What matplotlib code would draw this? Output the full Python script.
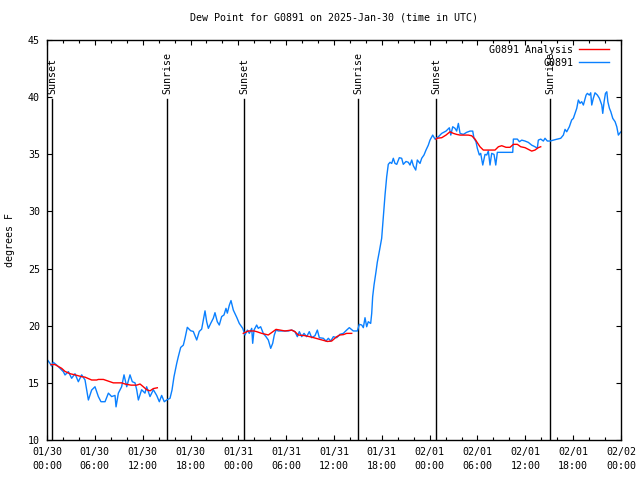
import numpy as np
import matplotlib
matplotlib.use("Agg")
import matplotlib.pyplot as plt

# ---- data (hours since 2025-01-30 00:00 UTC) ----
obs_hours = [0.0,0.38,0.58,0.79,1.21,1.63,2.05,2.26,2.68,3.09,3.51,3.93,4.35,4.77,5.19,5.6,6.02,6.44,6.77,7.28,
             7.7,8.11,8.53,8.66,8.95,9.36,9.66,10.0,10.41,10.7,11.04,11.25,11.46,11.87,12.29,12.5,12.92,13.34,13.76,14.09,
             14.38,14.71,15.0,15.43,15.68,15.93,16.27,16.47,16.77,17.1,17.31,17.6,18.02,18.35,18.78,19.1,19.4,19.61,19.82,20.03,
             20.24,20.53,20.86,21.07,21.36,21.61,21.91,22.2,22.45,22.62,22.87,23.08,23.37,23.8,24.12,24.55,24.84,25.13,25.38,25.68,
             25.8,25.97,26.3,26.5,26.8,27.13,27.47,27.76,28.06,28.31,28.51,28.73,29.01,29.64,30.27,30.69,31.1,31.4,31.65,31.95,
             32.24,32.57,32.9,33.2,33.62,33.91,34.16,34.66,35.0,35.29,35.59,35.92,36.34,36.75,37.17,37.59,37.92,38.42,38.93,39.18,
             39.48,39.68,39.89,40.1,40.3,40.6,40.73,40.85,41.02,41.27,41.43,41.68,41.98,42.19,42.4,42.61,42.81,43.03,43.24,43.44,
             43.65,43.87,44.19,44.49,44.69,45.03,45.32,45.53,45.75,45.95,46.25,46.45,46.79,47.0,47.29,47.54,47.83,48.04,48.38,48.67,
             49.09,49.51,50.05,50.47,50.65,50.89,51.18,51.39,51.6,51.81,52.22,52.64,53.06,53.4,53.56,53.81,53.98,54.23,54.4,54.66,
             54.94,55.16,55.36,55.57,55.78,56.07,56.29,56.49,56.83,57.67,58.42,58.5,59.0,59.26,59.55,59.96,60.38,60.8,61.21,61.5,
             61.63,61.93,62.26,62.47,62.76,63.1,63.51,63.85,64.44,64.77,64.98,65.19,65.52,65.81,66.02,66.23,66.45,66.65,66.86,67.07,
             67.28,67.62,67.78,68.03,68.2,68.33,68.53,68.74,69.04,69.29,69.59,69.71,69.88,70.05,70.22,70.35,70.55,70.72,70.97,71.26,
             71.47,71.67,71.88,72.0]
obs_values = [17.06,16.7,16.47,16.8,16.56,16.27,15.98,15.69,15.98,15.4,15.8,15.1,15.7,15.25,13.5,14.37,14.66,13.8,13.35,13.35,
              14.1,13.8,13.9,12.9,14.1,14.66,15.7,14.66,15.7,15.1,15.0,14.4,13.5,14.4,14.1,14.66,13.8,14.4,13.9,13.35,
              13.9,13.35,13.5,13.65,14.37,15.54,16.7,17.29,18.1,18.3,18.9,19.86,19.56,19.5,18.75,19.5,19.7,20.5,21.3,20.35,
              19.77,20.2,20.65,21.14,20.35,20.06,20.8,20.94,21.52,21.1,21.8,22.2,21.37,20.73,20.2,19.77,19.19,19.62,19.33,19.77,
              18.46,19.62,20.06,19.77,19.91,19.33,19.04,18.75,18.02,18.46,19.19,19.62,19.54,19.54,19.54,19.62,19.48,19.04,19.48,19.04,
              19.33,19.04,19.48,18.95,19.13,19.62,18.95,18.9,18.66,18.9,18.66,19.04,18.95,19.25,19.33,19.62,19.83,19.54,19.54,20.12,
              20.06,19.83,20.7,19.91,20.35,20.2,21.08,22.54,23.56,24.73,25.55,26.48,27.65,29.54,31.44,33.04,34.12,34.3,34.2,34.65,
              34.2,34.12,34.7,34.65,34.12,34.37,34.3,34.06,34.5,34.0,33.62,34.5,34.2,34.65,34.94,35.37,35.8,36.24,36.68,36.33,
              36.53,36.83,37.03,37.32,36.68,37.41,37.27,37.03,37.7,36.83,36.74,36.92,37.03,37.03,36.4,36.1,35.52,34.94,35.08,34.06,
              34.99,34.94,35.28,34.06,35.08,34.99,34.06,35.17,35.17,35.17,35.17,36.33,36.33,36.1,36.24,36.16,36.04,35.8,35.66,35.52,
              36.24,36.33,36.16,36.4,36.16,36.16,36.24,36.3,36.4,36.68,37.18,36.97,37.41,38.0,38.14,38.58,39.02,39.75,39.46,39.6,
              39.31,40.18,40.33,40.18,40.38,39.31,39.9,40.38,40.18,39.9,39.31,38.58,39.6,40.33,40.47,39.6,39.02,38.73,38.14,37.85,
              37.41,36.68,36.88,36.97]

ana_hours = [0.5,1.0,1.84,2.26,2.89,3.51,4.35,4.77,5.6,6.23,6.44,7.07,7.49,8.32,9.36,9.78,10.54,11.25,11.67,12.08,
             12.5,12.92,13.34,13.84,19.0,
             24.62,25.25,25.97,26.3,26.93,27.76,28.18,28.73,29.22,29.85,30.69,31.1,31.51,32.36,33.2,34.03,34.66,35.17,35.71,36.34,
             36.75,37.17,37.59,38.22,43.0,
             48.8,48.88,49.51,50.05,50.55,50.97,51.39,51.81,52.22,52.85,53.27,53.69,53.9,54.31,54.73,55.36,56.2,56.62,57.04,57.58,
             58.08,58.5,59.0,59.42,59.96,60.38,60.8,61.21,61.63,61.93]
ana_values = [16.6,16.6,16.27,16.0,15.8,15.7,15.54,15.5,15.25,15.25,15.3,15.3,15.2,15.0,15.0,14.9,14.8,14.8,14.9,14.66,
              14.4,14.3,14.5,14.57,np.nan,
              19.33,19.54,19.54,19.48,19.33,19.19,19.4,19.68,19.62,19.54,19.62,19.48,19.19,19.13,19.0,18.84,18.72,18.62,18.66,19.04,
              19.19,19.22,19.33,19.33,np.nan,
              36.3,36.4,36.45,36.68,36.97,36.83,36.74,36.68,36.68,36.68,36.62,36.33,36.1,35.66,35.37,35.37,35.37,35.66,35.75,35.61,
              35.61,35.87,35.87,35.66,35.58,35.43,35.28,35.37,35.58,35.66]

sun_hours = [0.63, 15.05, 24.71, 39.05, 48.8, 63.13]
sun_labels = ["Sunset", "Sunrise", "Sunset", "Sunrise", "Sunset", "Sunrise"]

xtick_hours = list(range(0, 73, 6))
xtick_labels = ["01/30\n00:00", "01/30\n06:00", "01/30\n12:00", "01/30\n18:00",
                "01/31\n00:00", "01/31\n06:00", "01/31\n12:00", "01/31\n18:00",
                "02/01\n00:00", "02/01\n06:00", "02/01\n12:00", "02/01\n18:00",
                "02/02\n00:00"]
yticks = [10, 15, 20, 25, 30, 35, 40, 45]

# ---- figure ----
plt.rcParams['font.family'] = ['DejaVu Sans Mono']
FS = 7.2
fig = plt.figure(figsize=(6.4, 4.8), dpi=100)
ax = fig.add_axes([47/640, 40/480, 574/640, 400/480])

for h, lab in zip(sun_hours, sun_labels):
    ax.plot([h, h], [10, 39.85], color='black', lw=1.0, zorder=1)
    ax.text(h, 40.3, lab, rotation=90, ha='center', va='bottom', fontsize=FS)

ax.plot(ana_hours, ana_values, color='#ff0000', lw=1.0, label='G0891 Analysis', zorder=3)
ax.plot(obs_hours, obs_values, color='#0a80ff', lw=1.0, label='G0891', zorder=2)

ax.set_xlim(0, 72)
ax.set_ylim(10, 45)
ax.set_xticks(xtick_hours)
ax.set_xticklabels(xtick_labels, fontsize=FS, linespacing=1.45)
ax.set_xticks(np.arange(0, 73, 2), minor=True)
ax.set_yticks(yticks)
ax.set_yticklabels([str(v) for v in yticks], fontsize=FS)
ax.tick_params(which='both', direction='in', top=True, right=True, width=0.8, color='black')
ax.tick_params(which='major', length=3.6, pad=5)
ax.tick_params(which='minor', length=2.0)
for s in ax.spines.values():
    s.set_linewidth(1.0)

ax.set_title("Dew Point for G0891 on 2025-Jan-30 (time in UTC)", fontsize=FS, pad=14)
ax.set_ylabel("degrees F", fontsize=FS)
ax.yaxis.set_label_coords(-0.055, 0.5)

leg = ax.legend(loc='upper right', bbox_to_anchor=(0.996, 1.012), frameon=False,
                markerfirst=False, fontsize=FS,
                handlelength=3.0, handletextpad=0.6, labelspacing=0.3,
                borderaxespad=0.5, borderpad=0.45)

fig.savefig("out.png", dpi=100)
